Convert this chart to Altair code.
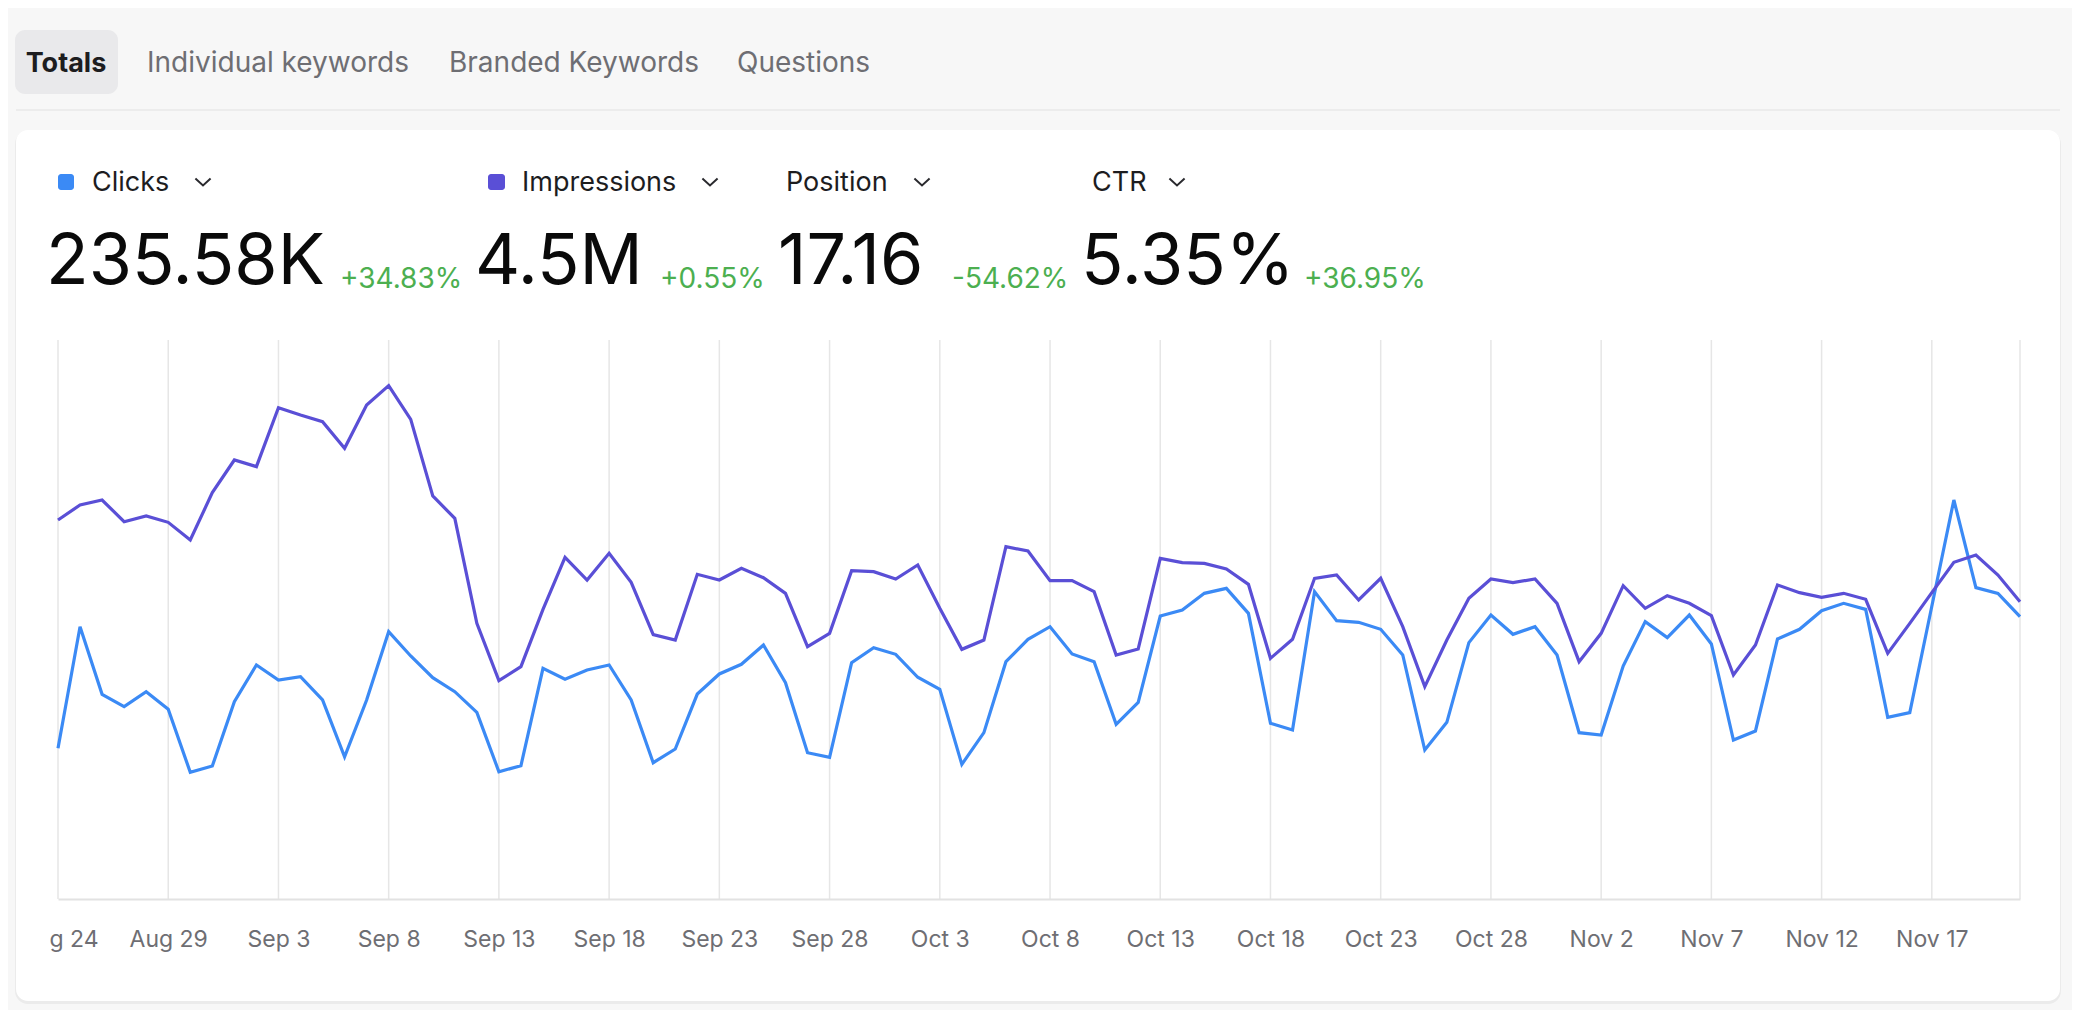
import altair as alt
import pandas as pd

FONT = "Inter"
BLUE = "#3b8af5"
PURPLE = "#5a4fd6"
GREEN = "#4caf50"

# ---- data -------------------------------------------------------------
dates = pd.date_range("2024-08-24", "2024-11-21", freq="D")

clicks = [1779, 3215, 2417, 2271, 2448, 2240, 1496, 1570, 2330, 2763,
          2586, 2625, 2350, 1680, 2350, 3156, 2869, 2613, 2448, 2204,
          1503, 1574, 2724, 2594, 2704, 2763, 2350, 1609, 1771, 2420,
          2657, 2771, 2999, 2554, 1727, 1673, 2790, 2967, 2889, 2618,
          2476, 1590, 1964, 2802, 3066, 3215, 2893, 2802, 2063, 2322,
          3341, 3412, 3609, 3668, 3373, 2074, 1995, 3629, 3286, 3267,
          3184, 2881, 1759, 2086, 3027, 3353, 3125, 3215, 2881, 1964,
          1936, 2751, 3275, 3086, 3353, 3011, 1877, 1984, 3070, 3184,
          3404, 3491, 3420, 2145, 2200, 3456, 4711, 3676, 3609, 3333]

impressions = [58310, 60617, 61386, 58050, 58924, 57950, 55232, 62514, 67540, 66514,
               75591, 74463, 73436, 69335, 76002, 78976, 73796, 62002, 58564, 42410,
               33590, 35745, 44565, 52566, 49078, 53181, 48719, 40667, 39847, 49950,
               49078, 50873, 49437, 47026, 38821, 40872, 50514, 50360, 49232, 51386,
               44719, 38410, 39847, 54206, 53540, 48976, 48976, 47283, 37539, 38462,
               52412, 51745, 51642, 50770, 48412, 37026, 39950, 49335, 49847, 46001,
               49335, 41898, 32667, 39847, 46257, 49232, 48668, 49232, 45488, 36514,
               40872, 48206, 44719, 46668, 45488, 43591, 34462, 39078, 48309, 47129,
               46411, 47026, 46103, 37795, 42410, 47129, 51796, 52924, 49847, 45744]

tabs = ["Totals", "Individual keywords", "Branded Keywords", "Questions"]
metric_names = ["Clicks", "Impressions", "Position", "CTR"]
metric_values = ["235.58K", "4.5M", "17.16", "5.35%"]
metric_changes = ["+34.83%", "+0.55%", "-54.62%", "+36.95%"]

tick_dates = list(dates[::5])             # Aug 24, Aug 29, ... Nov 17
grid_dates = tick_dates + [dates[-1]]     # plus the right edge (Nov 21)

df = pd.DataFrame({"date": dates, "clicks": clicks, "impressions": impressions})
grid_df = pd.DataFrame({"date": grid_dates})
one = pd.DataFrame({"k": [0]})

W, H = 1962, 559


def dt(d):
    return alt.DateTime(year=d.year, month=d.month, date=d.day)


x_scale = alt.Scale(domain=[dt(dates[0]), dt(dates[-1])], nice=False)
x_axis = alt.Axis(
    values=[dt(d) for d in tick_dates],
    format="%b %-d",
    grid=False,
    ticks=False,
    domain=True,
    domainColor="#e2e2e2",
    domainWidth=2,
    labelFont=FONT,
    labelFontSize=23,
    labelColor="#6e6e73",
    labelPadding=29,
    labelFlush=False,
    labelOverlap=False,
    labelExpr="datum.index === 0 ? slice(datum.label, 2) : datum.label",
    labelAlign={"condition": {"test": "datum.index === 0", "value": "left"}, "value": "center"},
    labelOffset={"condition": {"test": "datum.index === 0", "value": -9}, "value": 0},
    title=None,
    zindex=1,
)
X = alt.X("date:T", scale=x_scale, axis=x_axis)


def box(x, x2, y, y2, color, r=0):
    return alt.Chart(one).mark_rect(color=color, cornerRadius=r).encode(
        x=alt.value(x), x2=alt.value(x2), y=alt.value(y), y2=alt.value(y2))


def txt(s, x, y, size, color, weight="normal", align="left"):
    return alt.Chart(one).mark_text(
        text=s, align=align, baseline="alphabetic", font=FONT,
        fontSize=size, fontWeight=weight, color=color).encode(
        x=alt.value(x), y=alt.value(y))


def chevron(x, y):
    return alt.Chart(one).mark_point(
        shape="M-1,-0.45L0,0.45L1,-0.45", filled=False, strokeWidth=2,
        size=230, color="#2a2a2e", opacity=1).encode(x=alt.value(x), y=alt.value(y))


layers = []
# card with faint shadow
layers.append(box(-43, 2003, -209, 664, "#ebebeb", 13))
layers.append(box(-42, 2002, -210, 661, "#ffffff", 12))
# tabs
layers.append(box(-43, 60, -310, -246, "#e9e9eb", 10))
layers.append(box(-42, 2002, -231, -229, "#ececec"))
tab_x = [8, 89, 391, 679]
for i, t in enumerate(tabs):
    if i == 0:
        layers.append(txt(t, tab_x[i], -268, 27, "#1d1d1f", "bold", "center"))
    else:
        layers.append(txt(t, tab_x[i], -268, 28, "#6e6e73"))

# metric header
layers.append(box(0, 16, -166, -150, BLUE, 3))
layers.append(box(430, 447, -166, -150, PURPLE, 3))
name_x = [34, 464, 728, 1034]
chev_x = [145, 652, 864, 1119]
val_x = [-12, 417, 720, 1023]
chg_x = [282, 602, 894, 1246]
for i in range(4):
    layers.append(txt(metric_names[i], name_x[i], -149, 27, "#1d1d1f"))
    layers.append(chevron(chev_x[i], -158))
    layers.append(txt(metric_values[i], val_x[i], -56, 70, "#0a0a0a"))
    layers.append(txt(metric_changes[i], chg_x[i], -52, 28, GREEN))

# chart
grid = alt.Chart(grid_df).mark_rule(color="#e6e6e6", strokeWidth=1.5).encode(
    x=X, y=alt.value(0), y2=alt.value(H))
line_clicks = alt.Chart(df).mark_line(color=BLUE, strokeWidth=3.2).encode(
    x=X, y=alt.Y("clicks:Q", scale=alt.Scale(domain=[0, 6600]), axis=None))
line_impr = alt.Chart(df).mark_line(color=PURPLE, strokeWidth=3.2).encode(
    x=X, y=alt.Y("impressions:Q", scale=alt.Scale(domain=[0, 86000]), axis=None))

layers += [grid, line_clicks, line_impr]

chart = alt.layer(*layers).resolve_scale(y="independent").properties(
    width=W, height=H,
    padding={"left": 50, "top": 332, "right": 52, "bottom": 111},
    autosize=alt.AutoSizeParams(type="none"),
).configure(background="#f7f7f7").configure_view(stroke=None)

chart.save("out.html", embed_options={"renderer": "svg", "actions": False})
